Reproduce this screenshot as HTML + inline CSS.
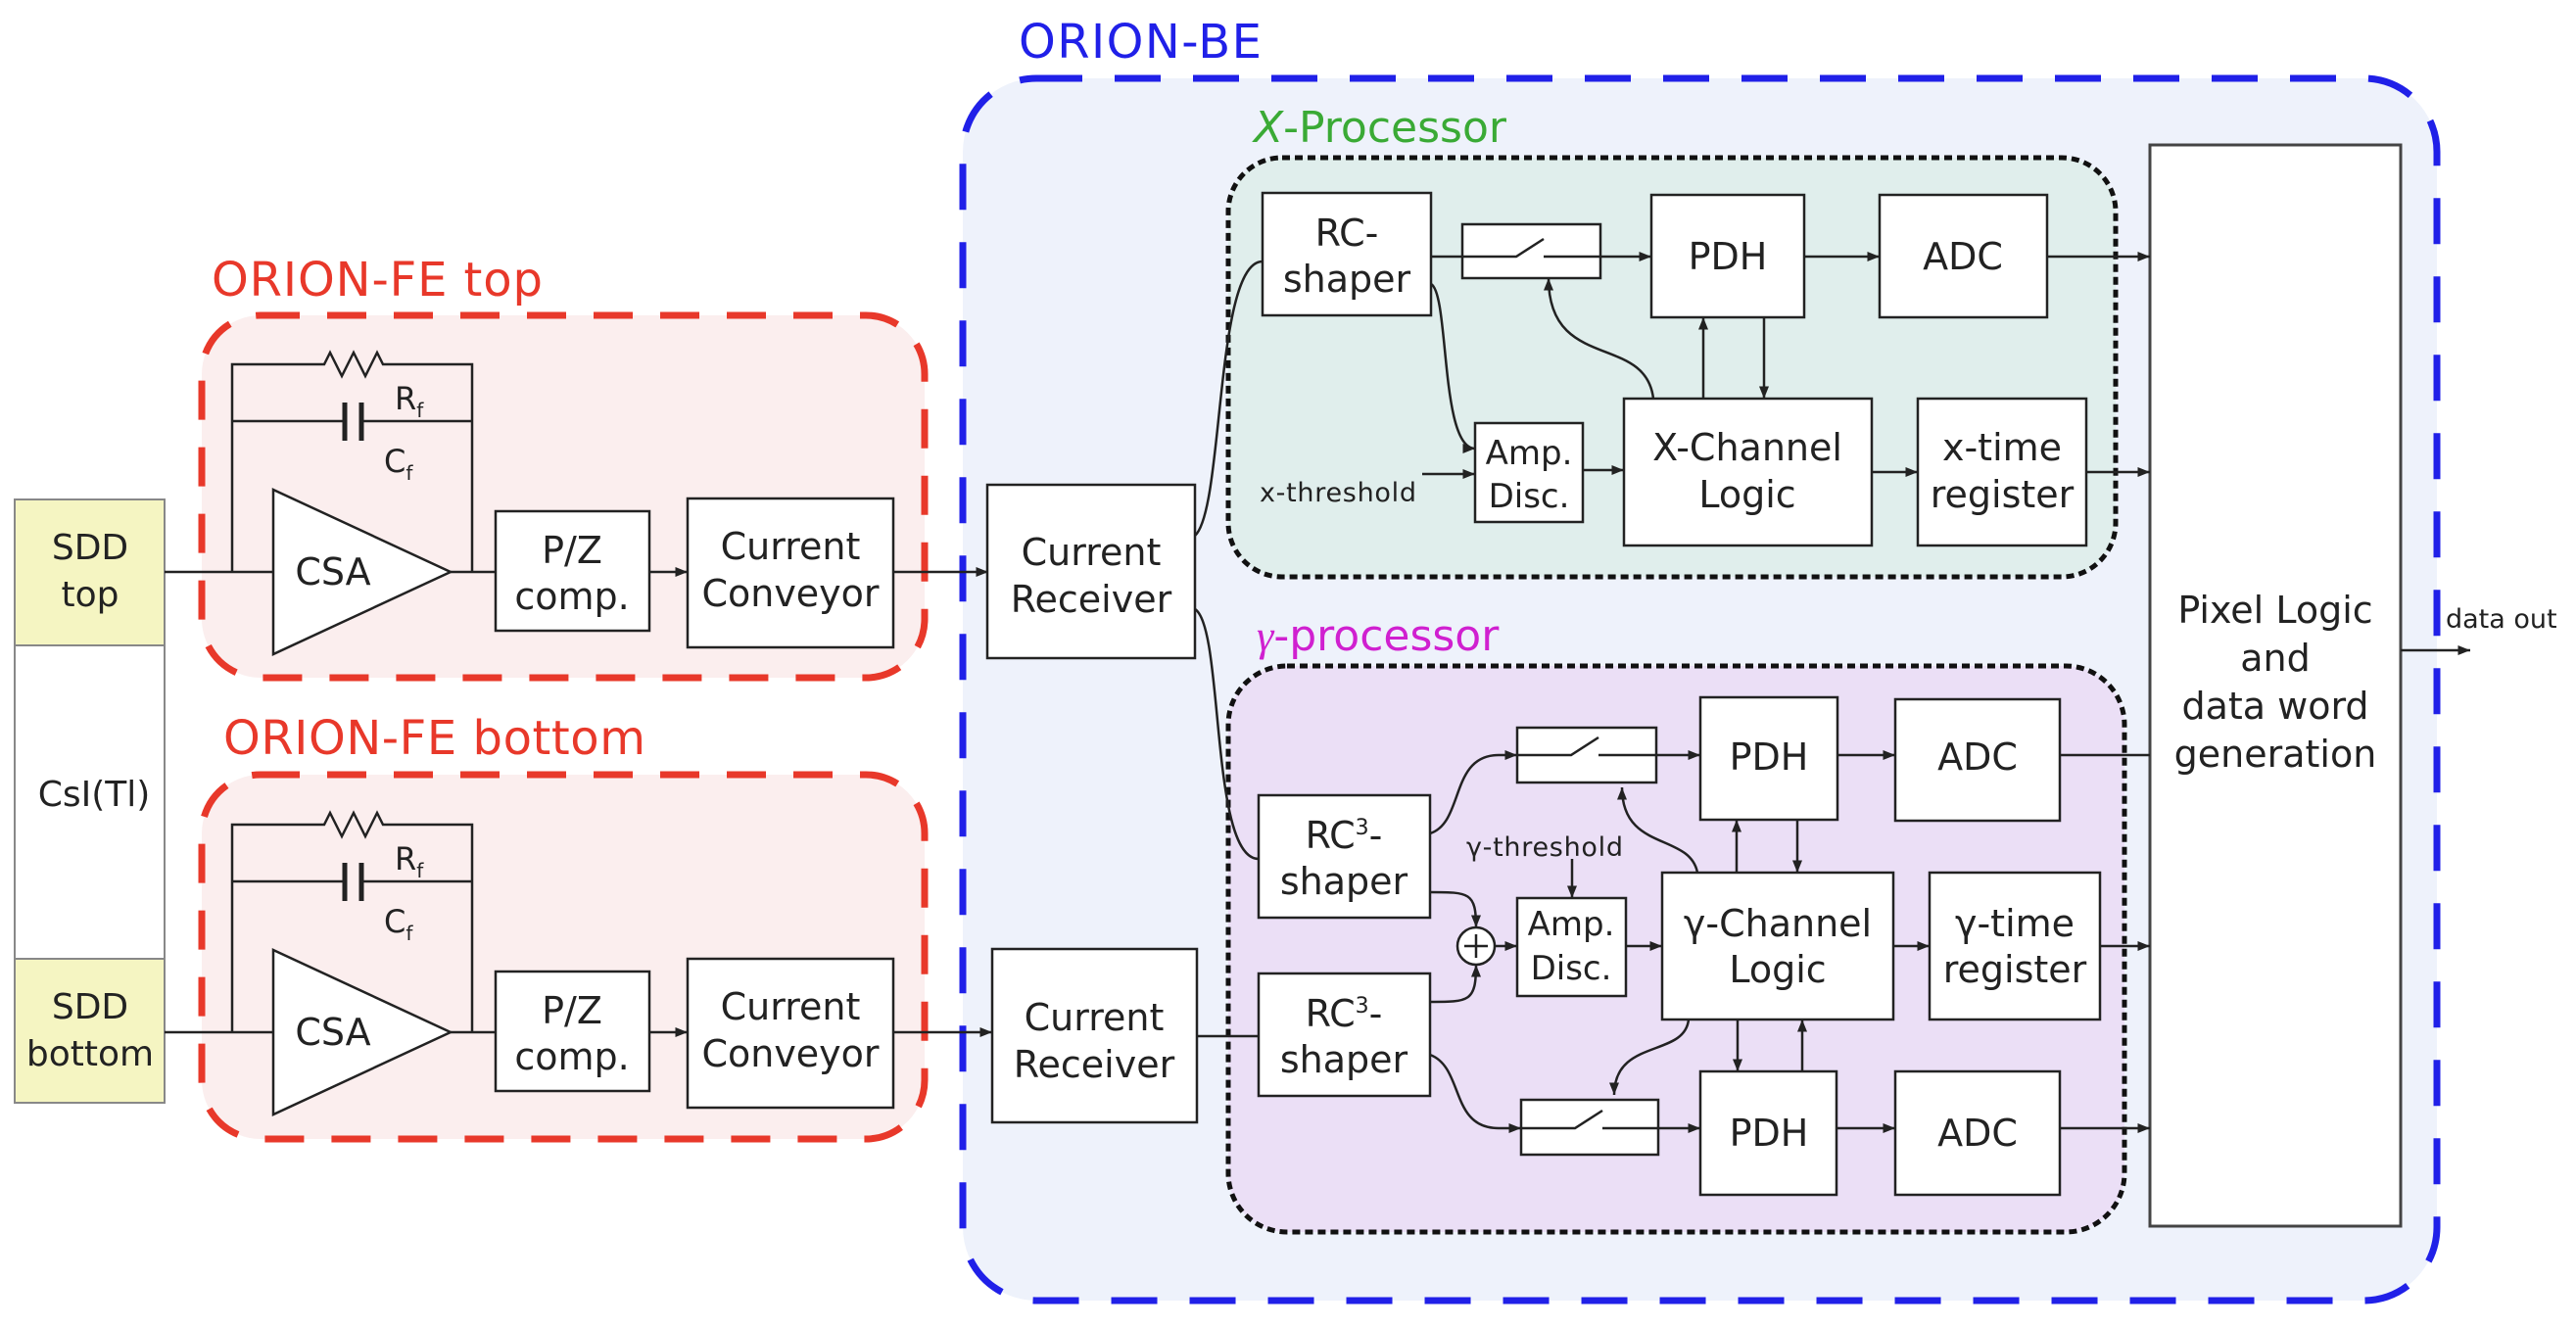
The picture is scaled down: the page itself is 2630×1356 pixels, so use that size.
<!DOCTYPE html>
<html><head><meta charset="utf-8"><style>
html,body{margin:0;padding:0;background:#fff;}
svg{display:block;}
text{font-family:"DejaVu Sans","Liberation Sans",sans-serif;fill:#222;}
</style></head><body>
<svg width="2630" height="1356" viewBox="0 0 2630 1356" xmlns="http://www.w3.org/2000/svg">
<defs>
<marker id="a" viewBox="0 0 10 10" refX="10" refY="5" markerWidth="5" markerHeight="5" orient="auto"><path d="M0,1 L10,5 L0,9 z" fill="#222"/></marker>
</defs>

<!-- ORION-BE -->
<rect x="983" y="80" width="1505" height="1248" rx="75" fill="#eef2fb" stroke="#2020e8" stroke-width="7" stroke-dasharray="47 33"/>
<text x="1040" y="59" font-size="48" style="fill:#2020e8" textLength="248">ORION-BE</text>

<!-- FE boxes -->
<rect x="206" y="322" width="738" height="370" rx="60" fill="#fbeeee" stroke="#e8382a" stroke-width="7" stroke-dasharray="40 28"/>
<text x="216" y="302" font-size="48" style="fill:#e8382a" textLength="338">ORION-FE top</text>
<rect x="206" y="791" width="738" height="372" rx="60" fill="#fbeeee" stroke="#e8382a" stroke-width="7" stroke-dasharray="40 28"/>
<text x="228" y="770" font-size="48" style="fill:#e8382a" textLength="431">ORION-FE bottom</text>

<!-- SDD column -->
<rect x="15" y="510" width="153" height="149" fill="#f5f5c2" stroke="#888" stroke-width="2"/>
<rect x="15" y="659" width="153" height="320" fill="#fff" stroke="#888" stroke-width="2"/>
<rect x="15" y="979" width="153" height="147" fill="#f5f5c2" stroke="#888" stroke-width="2"/>
<g font-size="36" text-anchor="middle">
<text x="92" y="571">SDD</text><text x="92" y="619">top</text>
<text x="96" y="823">CsI(Tl)</text>
<text x="92" y="1040">SDD</text><text x="92" y="1088">bottom</text>
</g>

<!-- FE contents (top), repeated for bottom -->
<g id="fe" stroke="#222" stroke-width="2.5" fill="none">
<path d="M168,584 H279"/>
<path d="M237,584 V372 H331 l6,-12 l12,24 l12,-24 l12,24 l12,-24 l6,12 H482 V584"/>
<path d="M237,430 H352 M369,430 H482"/>
<path d="M352,411 V450 M369,411 V450" stroke-width="5"/>
<path d="M279,500 L460,584 L279,668 Z" fill="#fff"/>
<path d="M460,584 H506"/>
<rect x="506" y="522" width="157" height="122" fill="#fff"/>
<path d="M663,584 H702" marker-end="url(#a)"/>
<rect x="702" y="509" width="210" height="152" fill="#fff"/>
<path d="M912,584 H1009" marker-end="url(#a)"/>
</g>
<g font-size="38" text-anchor="middle">
<text x="340" y="597">CSA</text>
<text x="584" y="575">P/Z</text><text x="584" y="622">comp.</text>
<text x="807" y="571">Current</text><text x="807" y="619">Conveyor</text>
</g>
<g font-size="32"><text x="403" y="418">R<tspan font-size="20" dy="8">f</tspan></text><text x="392" y="482">C<tspan font-size="20" dy="8">f</tspan></text></g>

<g transform="translate(0,470)">
<g stroke="#222" stroke-width="2.5" fill="none">
<path d="M168,584 H279"/>
<path d="M237,584 V372 H331 l6,-12 l12,24 l12,-24 l12,24 l12,-24 l6,12 H482 V584"/>
<path d="M237,430 H352 M369,430 H482"/>
<path d="M352,411 V450 M369,411 V450" stroke-width="5"/>
<path d="M279,500 L460,584 L279,668 Z" fill="#fff"/>
<path d="M460,584 H506"/>
<rect x="506" y="522" width="157" height="122" fill="#fff"/>
<path d="M663,584 H702" marker-end="url(#a)"/>
<rect x="702" y="509" width="210" height="152" fill="#fff"/>
<path d="M912,584 H1013" marker-end="url(#a)"/>
</g>
<g font-size="38" text-anchor="middle">
<text x="340" y="597">CSA</text>
<text x="584" y="575">P/Z</text><text x="584" y="622">comp.</text>
<text x="807" y="571">Current</text><text x="807" y="619">Conveyor</text>
</g>
<g font-size="32"><text x="403" y="418">R<tspan font-size="20" dy="8">f</tspan></text><text x="392" y="482">C<tspan font-size="20" dy="8">f</tspan></text></g>
</g>

<!-- Current receivers -->
<g stroke="#222" stroke-width="2.5" fill="#fff">
<rect x="1008" y="495" width="212" height="177"/>
<rect x="1013" y="969" width="209" height="177"/>
</g>
<g font-size="38" text-anchor="middle">
<text x="1114" y="577">Current</text><text x="1114" y="625">Receiver</text>
<text x="1117" y="1052">Current</text><text x="1117" y="1100">Receiver</text>
</g>

<!-- X processor -->
<rect x="1254" y="161" width="906" height="428" rx="55" fill="#e0eeec" stroke="#111" stroke-width="5" stroke-dasharray="8 5"/>
<text x="1280" y="145" font-size="44" style="fill:#3aaa35"><tspan font-style="italic">X</tspan>-Processor</text>

<!-- gamma processor -->
<rect x="1254" y="680" width="915" height="578" rx="60" fill="#ebdff6" stroke="#111" stroke-width="5" stroke-dasharray="8 5"/>
<text x="1283" y="664" font-size="44" style="fill:#d020d0"><tspan font-style="italic" font-family="Liberation Serif, serif">γ</tspan>-processor</text>

<!-- Pixel logic -->
<rect x="2195" y="148" width="256" height="1104" fill="#fff" stroke="#444" stroke-width="3"/>
<g font-size="38" text-anchor="middle">
<text x="2323" y="636">Pixel Logic</text><text x="2323" y="685">and</text>
<text x="2323" y="734">data word</text><text x="2323" y="783">generation</text>
</g>
<text x="2497" y="641" font-size="27">data out</text>

<g stroke="#222" stroke-width="2.5" fill="none">
<path d="M2451,664 H2522" marker-end="url(#a)"/>
<!-- input curves -->
<path d="M1220,547 C1250,520 1240,267 1289,267" />
<path d="M1220,622 C1250,640 1235,877 1285,877"/>
<path d="M1222,1058 H1285"/>

<!-- X boxes -->
<rect x="1289" y="197" width="172" height="125" fill="#fff"/>
<rect x="1493" y="229" width="141" height="55" fill="#fff"/>
<rect x="1686" y="199" width="156" height="125" fill="#fff"/>
<rect x="1919" y="199" width="171" height="125" fill="#fff"/>
<rect x="1506" y="432" width="110" height="101" fill="#fff"/>
<rect x="1658" y="407" width="253" height="150" fill="#fff"/>
<rect x="1958" y="407" width="172" height="150" fill="#fff"/>
<path d="M1461,262 H1493 M1634,262 H1686" marker-end="url(#a)"/>
<path d="M1493,262 H1548 L1576,244 M1576,262 H1634"/>
<path d="M1842,262 H1919" marker-end="url(#a)"/>
<path d="M2090,262 H2195" marker-end="url(#a)"/>
<path d="M1461,290 C1480,300 1470,458 1506,458" marker-end="url(#a)"/>
<path d="M1452,484 H1506" marker-end="url(#a)"/>
<path d="M1616,480 H1658" marker-end="url(#a)"/>
<path d="M1911,482 H1958" marker-end="url(#a)"/>
<path d="M2130,482 H2195" marker-end="url(#a)"/>
<path d="M1739,407 V324" marker-end="url(#a)"/>
<path d="M1801,324 V407" marker-end="url(#a)"/>
<path d="M1688,407 C1680,340 1581,380 1581,284" marker-end="url(#a)"/>

<!-- gamma boxes -->
<rect x="1285" y="812" width="175" height="125" fill="#fff"/>
<rect x="1285" y="994" width="175" height="125" fill="#fff"/>
<rect x="1549" y="743" width="142" height="56" fill="#fff"/>
<rect x="1736" y="712" width="140" height="125" fill="#fff"/>
<rect x="1935" y="714" width="168" height="124" fill="#fff"/>
<rect x="1549" y="917" width="111" height="100" fill="#fff"/>
<rect x="1697" y="891" width="236" height="150" fill="#fff"/>
<rect x="1970" y="891" width="174" height="150" fill="#fff"/>
<rect x="1553" y="1123" width="140" height="56" fill="#fff"/>
<rect x="1736" y="1094" width="139" height="126" fill="#fff"/>
<rect x="1935" y="1094" width="168" height="126" fill="#fff"/>
<circle cx="1507" cy="966" r="19" fill="#fff"/>
<path d="M1495,966 H1519 M1507,954 V978"/>
<path d="M1549,771 H1604 L1632,753 M1632,771 H1691"/>
<path d="M1553,1152 H1608 L1636,1134 M1636,1152 H1693"/>
<path d="M1691,771 H1736" marker-end="url(#a)"/>
<path d="M1693,1152 H1736" marker-end="url(#a)"/>
<path d="M1876,771 H1935" marker-end="url(#a)"/>
<path d="M1875,1152 H1935" marker-end="url(#a)"/>
<path d="M2103,771 H2195"/>
<path d="M2103,1152 H2195" marker-end="url(#a)"/>
<path d="M2144,966 H2195" marker-end="url(#a)"/>
<path d="M1933,966 H1970" marker-end="url(#a)"/>
<path d="M1660,966 H1697" marker-end="url(#a)"/>
<path d="M1526,966 H1549" marker-end="url(#a)"/>
<path d="M1460,851 C1495,840 1480,771 1530,771 H1549" marker-end="url(#a)"/>
<path d="M1460,1077 C1495,1090 1480,1152 1530,1152 H1553" marker-end="url(#a)"/>
<path d="M1460,911 C1500,911 1507,911 1507,947" marker-end="url(#a)"/>
<path d="M1460,1023 C1500,1023 1507,1023 1507,985" marker-end="url(#a)"/>
<path d="M1605,877 V917" marker-end="url(#a)"/>
<path d="M1773,891 V837" marker-end="url(#a)"/>
<path d="M1835,837 V891" marker-end="url(#a)"/>
<path d="M1774,1041 V1094" marker-end="url(#a)"/>
<path d="M1840,1094 V1041" marker-end="url(#a)"/>
<path d="M1733,891 C1725,850 1656,870 1656,804" marker-end="url(#a)"/>
<path d="M1724,1041 C1720,1080 1648,1060 1648,1118" marker-end="url(#a)"/>
</g>

<g font-size="38" text-anchor="middle">
<text x="1375" y="251">RC-</text><text x="1375" y="298">shaper</text>
<text x="1764" y="275">PDH</text>
<text x="2004" y="275">ADC</text>
<text x="1561" y="474" font-size="34">Amp.</text><text x="1561" y="518" font-size="34">Disc.</text>
<text x="1784" y="470">X-Channel</text><text x="1784" y="518">Logic</text>
<text x="2044" y="470">x-time</text><text x="2044" y="518">register</text>

<text x="1372" y="866">RC<tspan font-size="22" dy="-14">3</tspan><tspan dy="14">-</tspan></text><text x="1372" y="913">shaper</text>
<text x="1372" y="1048">RC<tspan font-size="22" dy="-14">3</tspan><tspan dy="14">-</tspan></text><text x="1372" y="1095">shaper</text>
<text x="1806" y="786">PDH</text><text x="2019" y="786">ADC</text>
<text x="1806" y="1170">PDH</text><text x="2019" y="1170">ADC</text>
<text x="1604" y="955" font-size="34">Amp.</text><text x="1604" y="1000" font-size="34">Disc.</text>
<text x="1815" y="956">γ-Channel</text><text x="1815" y="1003">Logic</text>
<text x="2057" y="956">γ-time</text><text x="2057" y="1003">register</text>
</g>
<text x="1286" y="512" font-size="27" textLength="160">x-threshold</text>
<text x="1497" y="874" font-size="27" textLength="160">γ-threshold</text>
</svg>
</body></html>
